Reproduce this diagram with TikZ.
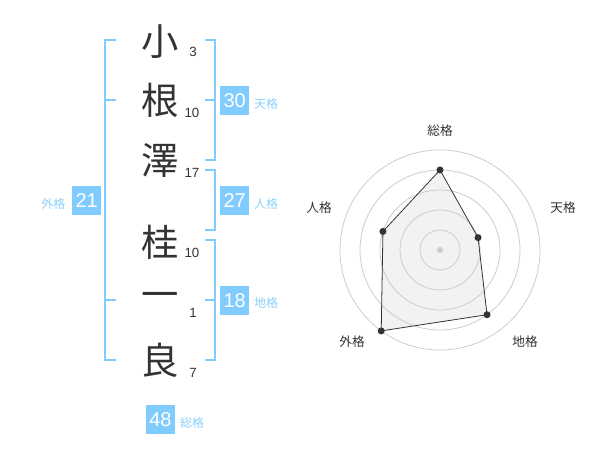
\documentclass[tikz,border=0pt]{standalone}
\usepackage{fontspec}
\setmainfont{Liberation Sans}
\newfontfamily\jpfont{Noto Sans CJK JP}
\definecolor{kakuBlue}{RGB}{128,204,255}
\definecolor{kakuText}{RGB}{140,208,250}
\definecolor{inkGrey}{RGB}{51,51,51}
\definecolor{ringGrey}{RGB}{204,204,204}
\definecolor{areaGrey}{RGB}{242,242,242}

\begin{document}
\begin{tikzpicture}[x=0.75pt,y=0.75pt,yscale=-1,xscale=1,
	kanji/.style={inner sep=0pt,text=inkGrey,font=\jpfont\fontsize{28}{28}\selectfont},
	strokes/.style={inner sep=0.75pt,text=inkGrey,font=\fontsize{10}{10}\selectfont},
	kakubox/.style={fill=kakuBlue,text=white,minimum size=21.75pt,inner sep=0pt,font=\fontsize{15}{15}\selectfont},
	kakulabel/.style={inner sep=0.75pt,text=kakuText,font=\jpfont\fontsize{9}{9}\selectfont},
	bracket/.style={draw=kakuBlue,line width=1.5pt},
	axislabel/.style={inner sep=0.75pt,text=inkGrey,font=\jpfont\fontsize{9.5}{9.5}\selectfont}]
		\useasboundingbox (0,0) rectangle (600,470);

		% Name
		\node[kanji] (c1) at (160,42) {小};
		\node[kanji] (c2) at (160,100) {根};
		\node[kanji] (c3) at (160,160) {澤};
		\node[kanji] (c4) at (160,242) {桂};
		\node[kanji] (c5) at (160,300) {一};
		\node[kanji] (c6) at (160,360) {良};
		% Strokes
		\node[strokes] (n1) at (193,52) {3};
		\node[strokes] (n2) at (192,112.5) {10};
		\node[strokes] (n3) at (192,172.5) {17};
		\node[strokes] (n4) at (192,252.5) {10};
		\node[strokes] (n5) at (193,313) {1};
		\node[strokes] (n6) at (193,373) {7};

		% Brackets
		\draw[bracket] (116,40) -- (105,40) -- (105,360) -- (116,360);
		\draw[bracket] (105,100) -- (116,100);
		\draw[bracket] (105,300) -- (116,300);
		\draw[bracket] (205,40) -- (215,40) -- (215,160) -- (205,160);
		\draw[bracket] (215,100) -- (205,100);
		\draw[bracket] (205,170) -- (215,170) -- (215,230) -- (205,230);
		\draw[bracket] (205,240) -- (215,240) -- (215,360) -- (205,360);
		\draw[bracket] (215,300) -- (205,300);

		% Kaku boxes
		\node[kakubox] (ten) at (234.7,100.5) {30};
		\node[kakulabel] (tenL) at (266,104) {天格};
		\node[kakubox] (jin) at (234.7,200.5) {27};
		\node[kakulabel] (jinL) at (266,204) {人格};
		\node[kakubox] (chi) at (234.7,300.5) {18};
		\node[kakulabel] (chiL) at (266,303) {地格};
		\node[kakubox] (gai) at (86.7,200.5) {21};
		\node[kakulabel] (gaiL) at (53.3,204) {外格};
		\node[kakubox] (sou) at (160.5,419.5) {48};
		\node[kakulabel] (souL) at (192,423) {総格};

		% Radar
		\begin{scope}[shift={(440,250)}]
			\coordinate (o) at (0,0);
			\coordinate (pSou) at (-90:80);
			\coordinate (pTen) at (-18:40);
			\coordinate (pChi) at (54:80);
			\coordinate (pGai) at (126:100);
			\coordinate (pJin) at (198:60);
			\fill[areaGrey] (pSou) -- (pTen) -- (pChi) -- (pGai) -- (pJin) -- cycle;
			\foreach \r in {20,40,...,100}
				\draw[ringGrey,line width=0.6pt] (o) circle (\r);
			\fill[ringGrey] (o) circle (3);
			\draw[inkGrey,line width=0.6pt] (pSou) -- (pTen) -- (pChi) -- (pGai) -- (pJin) -- cycle;
			\foreach \p in {pSou,pTen,pChi,pGai,pJin}
				\fill[inkGrey] (\p) circle (3.5);
		\end{scope}
		\node[axislabel] (axSou) at (440,131) {総格};
		\node[axislabel] (axTen) at (563,208) {天格};
		\node[axislabel] (axChi) at (525,342) {地格};
		\node[axislabel] (axGai) at (352,342) {外格};
		\node[axislabel] (axJin) at (319,208) {人格};
\end{tikzpicture}
\end{document}
